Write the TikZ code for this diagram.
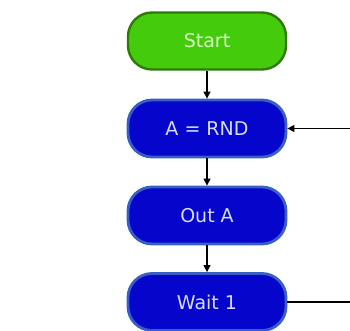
\documentclass[tikz,border=0pt]{standalone}
\usepackage{fontspec}
\newfontfamily\chartfont{DejaVu Sans}
\usetikzlibrary{arrows.meta,positioning}
\definecolor{startC}   {HTML}{2F7A05}
\definecolor{startFill}{HTML}{44CC0C}
\definecolor{startText}{HTML}{D8FFC0}
\definecolor{stepC}    {HTML}{3A5FC4}
\definecolor{stepFill} {HTML}{0505CC}
\definecolor{stepText} {HTML}{D6DCFF}
\tikzset{
  >={Triangle[length=7pt,width=7pt]},
  startBox/.style={draw=startC,line width=2.4pt,rounded corners=24pt,
                   fill=startFill,text=startText,
                   font=\chartfont\fontsize{19}{21}\selectfont,
                   minimum width=158pt,minimum height=57pt,inner sep=0pt},
  stepBox/.style={draw=stepC,line width=2.8pt,rounded corners=24pt,
                  fill=stepFill,text=stepText,
                  font=\chartfont\fontsize{19}{21}\selectfont,
                  minimum width=158pt,minimum height=57pt,inner sep=0pt},
  flow/.style={->,line width=1.3pt,black},
}
\begin{document}
\begin{tikzpicture}[x=1pt,y=1pt]
\useasboundingbox (0,0) rectangle (350,331);
\clip (0,0) rectangle (350,331);

\node[startBox] (start) at (207,290)   {Start};
\node[stepBox]  (rnd)   at (207,202.5) {A = RND};
\node[stepBox]  (out)   at (207,115.5) {Out A};
\node[stepBox]  (wait)  at (207,29)    {Wait 1};

\draw[flow] (start) -- (rnd);
\draw[flow] (rnd) -- (out);
\draw[flow] (out) -- (wait);

% loop back runs past the right edge of the picture
\coordinate (back) at (380,29);
\draw[flow] (wait.east) -- (back) |- (rnd.east);

\end{tikzpicture}
\end{document}
